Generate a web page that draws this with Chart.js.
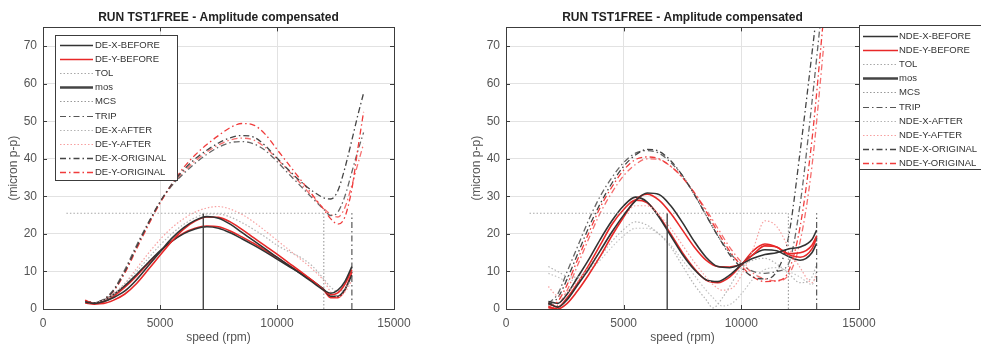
<!DOCTYPE html>
<html>
<head>
<meta charset="utf-8">
<script src="https://cdn.jsdelivr.net/npm/chart.js@4.4.1/dist/chart.umd.min.js"></script>
<style>
    html, body { margin: 0; padding: 0; background: #fff; }
    body { width: 981px; height: 347px; position: relative; overflow: hidden; }
    .panel { position: absolute; top: 0; height: 347px; }
    #deWrap { left: 0; width: 463px; }
    #ndeWrap { left: 463px; width: 518px; }
</style>
</head>
<body>
<div class="panel" id="deWrap"><canvas id="deChart"></canvas></div>
<div class="panel" id="ndeWrap"><canvas id="ndeChart"></canvas></div>
<script>
// ---- tick labels ----
const speedTicks = [0, 5000, 10000, 15000];
const ampTicks = [0, 10, 20, 30, 40, 50, 60, 70];

// ---- limit lines (same on both sides) ----
const tolSpeed = [1000, 12000];
const tolLevel = 25.5;
const mosSpeed = 6850;
const mcsSpeed = 12000;
const tripSpeed = 13200;
const limitTop = 25.5;

// ---- DE bearing ----
const deSpeed = [1800, 2200, 2600, 3000, 3500, 4000, 4500, 5000, 5500, 6000, 6500, 7000, 7500,
    8000, 8500, 9000, 9500, 10000, 10500, 11000, 11500, 12000, 12300, 12600, 12900, 13200];
const deXBefore = [1.9, 1.5, 2.0, 3.0, 4.8, 7.8, 11.5, 15.2, 18.8, 21.6, 23.6, 24.6, 24.2,
    22.6, 20.4, 18.2, 16.0, 13.8, 11.6, 9.4, 7.2, 5.0, 4.2, 5.0, 7.3, 11.3];
const deYBefore = [2.3, 1.4, 1.5, 2.3, 4.0, 6.8, 10.5, 14.3, 18.0, 21.2, 23.4, 24.5, 24.4,
    23.2, 21.2, 19.0, 16.8, 14.6, 12.3, 10.0, 7.6, 5.1, 3.8, 4.3, 6.6, 10.5];
const deXBefore2 = [1.8, 1.6, 2.4, 3.8, 6.2, 9.2, 12.4, 15.5, 18.0, 20.0, 21.3, 21.9, 21.5,
    20.3, 18.7, 17.0, 15.2, 13.3, 11.4, 9.5, 7.5, 5.2, 3.4, 3.4, 5.2, 9.0];
const deYBefore2 = [1.6, 1.3, 1.9, 3.3, 5.8, 8.8, 12.2, 15.3, 18.0, 20.2, 21.5, 22.1, 21.9,
    20.8, 19.2, 17.5, 15.6, 13.7, 11.7, 9.7, 7.6, 5.0, 3.0, 3.0, 5.0, 9.8];
const deXAfter = [1.9, 1.6, 2.5, 4.0, 6.8, 10.0, 13.5, 17.0, 20.0, 22.5, 24.3, 25.3, 25.3,
    24.5, 23.0, 21.2, 19.2, 17.0, 15.3, 13.8, 11.5, 8.0, 5.8, 4.6, 5.5, 8.0];
const deYAfter = [1.8, 1.5, 2.3, 3.8, 6.8, 10.8, 14.8, 18.5, 21.6, 24.0, 25.8, 26.9, 27.3,
    26.6, 25.2, 23.2, 20.8, 18.3, 15.8, 13.3, 10.7, 7.5, 4.5, 3.2, 4.5, 7.5];

const deOrigSpeed = [1800, 2200, 2600, 3000, 3500, 4000, 4500, 5000, 5500, 6000, 6500, 7000, 7500,
    8000, 8500, 9000, 9500, 10000, 10500, 11000, 11500, 12000, 12300, 12600, 12900, 13200, 13450, 13700];
const deXOrig = [2, 1.7, 2.6, 4.8, 10, 16.5, 22.8, 28.5, 33.2, 37, 40, 42.3, 44.2,
    45.6, 46.2, 45.8, 43.5, 40.2, 37, 34, 31.5, 29.6, 29.3, 31.5, 37.5, 45, 51.5, 57.5];
const deYOrig = [2, 1.7, 2.5, 4.6, 9.6, 16, 22.3, 28.2, 33.2, 37.6, 41, 43.8, 46.2,
    48.3, 49.4, 49, 46.5, 42.5, 38.5, 34.5, 30.5, 26.5, 24, 22.6, 24.5, 32, 42.5, 52.5];
const deXOrig2 = [2, 1.7, 2.6, 5, 10.5, 17, 23, 28.5, 32.8, 36, 38.8, 41.2, 43.1,
    44.3, 44.6, 44, 42.2, 39.3, 36, 32.8, 29.6, 26.5, 24.9, 25.8, 30, 36.5, 42, 47];
const deYOrig2 = [2, 1.7, 2.5, 4.8, 10.2, 16.6, 22.8, 28.3, 33, 36.5, 39.4, 41.8, 43.7,
    45, 45.5, 45, 43, 40, 36.8, 33.5, 30, 26.8, 25.2, 24.5, 27, 33, 38.5, 44];

// ---- NDE bearing ----
const ndeSpeed = [1800, 2200, 2600, 3000, 3500, 4000, 4500, 5000, 5500, 6000, 6500, 7000, 7500,
    8000, 8500, 9000, 9500, 10000, 10500, 11000, 11500, 12000, 12500, 13000, 13200];
const ndeXBefore = [1.5, 0.5, 2.5, 6, 10.5, 15.5, 20.5, 25, 28.8, 30.9, 30.5, 27.5, 23,
    18, 13.8, 11.3, 11, 12, 13.5, 14.5, 15, 16, 16.5, 18.5, 21];
const ndeYBefore = [0.5, 0, 1.5, 4.5, 9, 14, 19.5, 24.5, 29, 30.6, 29, 25.5, 21,
    16.5, 13, 11.3, 11.2, 12, 14.5, 16.8, 16.5, 14.8, 15, 17, 19.5];
const ndeXBefore2 = [2, 1.5, 4, 8, 13, 18.5, 23.5, 27.5, 29.8, 28.5, 24.5, 19.5, 14.5,
    10.5, 7.8, 7.3, 9, 11.8, 14.5, 15.8, 15.5, 14, 13, 15, 17.5];
const ndeYBefore2 = [1.5, 0.5, 3, 6.5, 11.5, 17, 22.5, 26.5, 29, 28.3, 24.8, 20, 15,
    10.8, 7.7, 7, 8.5, 11.7, 15.5, 17.3, 16.5, 14.5, 13.8, 16, 19];

const ndeAfterSpeed = [1800, 2200, 2600, 3000, 3500, 4000, 4500, 5000, 5500, 6000, 6500, 7000, 7500,
    8000, 8500, 8800, 9200, 9600, 10000, 10500, 11000, 11500, 12000, 12500, 13000, 13200];
const ndeXAfter = [11.3, 10, 8.7, 8.5, 10.5, 14, 18, 21.2, 23.2, 22.3, 20, 16.5, 11.5,
    6.5, 2.5, 0.3, 3, 7, 11, 13, 13.5, 12, 9.5, 7, 8.5, 12];
const ndeYAfter = [6, 3.5, 4.5, 7, 11, 15.5, 20.5, 24.5, 27.5, 27.5, 25, 21.5, 17,
    12.5, 8.5, 6.5, 5, 5.5, 9, 16, 23.5, 22, 16.5, 11, 7, 9];
const ndeXAfter2 = [9.5, 8.5, 7.5, 8, 10, 13, 16.5, 19.5, 21.5, 21.5, 20, 17, 13,
    9, 5, 3, 0.8, 1.5, 4, 8, 10.5, 11, 10, 8.5, 6.5, 10];

const ndeOrigSpeed = [1800, 2200, 2600, 3000, 3500, 4000, 4500, 5000, 5500, 6000, 6500, 7000, 7500,
    8000, 8500, 9000, 9500, 10000, 10500, 11000, 11500, 12000, 12500, 13000, 13500];
const ndeXOrig = [1, 3, 8, 14, 21.5, 28, 33.5, 38, 41, 42.5, 42, 39.5, 35.5,
    30.5, 25, 19.5, 14.5, 11, 8.5, 8, 10, 19, 42, 68, 95];
const ndeYOrig = [0.5, 2, 6.5, 12.5, 20, 27, 32.5, 37, 39.8, 40.5, 40, 38, 35,
    31, 26, 20.5, 15.5, 11.5, 8.5, 7.3, 7.5, 10, 22, 45, 78];
const ndeXOrig2 = [1.5, 4, 10, 16, 23.5, 30, 35, 39, 41.5, 42.2, 41.5, 39, 35.5,
    30.5, 25, 19.5, 15, 12, 10, 9.5, 10, 12, 28, 55, 85];
const ndeYOrig2 = [0, 1, 5, 11, 18.5, 25.5, 31, 35.5, 38.5, 40, 39.8, 38, 35,
    31, 26.5, 21.5, 16.5, 12.5, 9.5, 8, 7.5, 9, 18, 38, 70];

// ---- styles ----
const FONT = "'Liberation Sans', Arial, Helvetica, sans-serif";
const TEXT = '#555555';
const GRID = '#e2e2e2';
const BLACK = '#333333';
const RED = 'rgb(232,40,40)';
const DOT = [1.5, 2];
const DASHDOT = [6, 3, 1.5, 3];

function pts(speeds, values) {
    return speeds.map((s, i) => ({ x: s, y: values[i] }));
}

function curve(label, speeds, values, color, dash, width) {
    return {
        label,
        data: pts(speeds, values),
        borderColor: color,
        borderDash: dash,
        borderWidth: width,
        pointRadius: 0,
        fill: false,
        cubicInterpolationMode: 'monotone'
    };
}

function straight(label, speeds, values, color, dash, width, legendWidth) {
    return {
        label,
        data: pts(speeds, values),
        borderColor: color,
        borderDash: dash,
        borderWidth: width,
        legendWidth,
        pointRadius: 0,
        fill: false,
        tension: 0
    };
}

function limitLines() {
    return [
        straight('TOL', tolSpeed, [tolLevel, tolLevel], '#a8a8a8', DOT, 1.1),
        straight('mos', [mosSpeed, mosSpeed], [0, limitTop], '#444', [], 1.4, 2.4),
        straight('MCS', [mcsSpeed, mcsSpeed], [0, limitTop], '#999', DOT, 1.1),
        straight('TRIP', [tripSpeed, tripSpeed], [0, limitTop], '#555', DASHDOT, 1.2)
    ];
}

// MATLAB-like box with inward ticks
const matlabFrame = {
    id: 'matlabFrame',
    afterDatasetsDraw(chart) {
        const { ctx, chartArea: a, scales } = chart;
        ctx.save();
        ctx.strokeStyle = '#3c3c3c';
        ctx.lineWidth = 1;
        ctx.setLineDash([]);
        ctx.strokeRect(Math.round(a.left) + 0.5, Math.round(a.top) + 0.5,
            Math.round(a.right - a.left), Math.round(a.bottom - a.top));
        ctx.beginPath();
        speedTicks.forEach(v => {
            const px = Math.round(scales.x.getPixelForValue(v)) + 0.5;
            ctx.moveTo(px, a.bottom); ctx.lineTo(px, a.bottom - 4);
            ctx.moveTo(px, a.top); ctx.lineTo(px, a.top + 4);
        });
        ampTicks.forEach(v => {
            const py = Math.round(scales.y.getPixelForValue(v)) + 0.5;
            ctx.moveTo(a.left, py); ctx.lineTo(a.left + 4, py);
            ctx.moveTo(a.right, py); ctx.lineTo(a.right - 4, py);
        });
        ctx.stroke();
        ctx.restore();
    }
};

// boxed legend drawn on the canvas
const boxLegend = {
    id: 'boxLegend',
    afterDraw(chart, args, o) {
        const { ctx } = chart;
        const items = chart.data.datasets.filter(ds => ds.label);
        ctx.save();
        ctx.fillStyle = '#fff';
        ctx.fillRect(o.x, o.y, o.w, o.h);
        ctx.strokeStyle = '#3c3c3c';
        ctx.lineWidth = 1;
        ctx.setLineDash([]);
        ctx.strokeRect(o.x + 0.5, o.y + 0.5, o.w, o.h);
        ctx.font = '9.5px ' + FONT;
        ctx.textBaseline = 'middle';
        ctx.textAlign = 'left';
        items.forEach((ds, i) => {
            const cy = Math.round(o.y + o.firstRow + i * o.rowStep) + 0.5;
            ctx.strokeStyle = ds.borderColor;
            ctx.lineWidth = ds.legendWidth || ds.borderWidth;
            ctx.setLineDash(ds.borderDash || []);
            ctx.beginPath();
            ctx.moveTo(o.x + o.sampleStart, cy);
            ctx.lineTo(o.x + o.sampleEnd, cy);
            ctx.stroke();
            ctx.fillStyle = '#333';
            ctx.fillText(ds.label, o.x + o.textStart, cy);
        });
        ctx.restore();
    }
};

function makeOptions(legendBox, padRight) {
    return {
        responsive: true,
        maintainAspectRatio: false,
        animation: false,
        layout: { padding: { left: 0, right: padRight, top: 0, bottom: 0 } },
        scales: {
            x: {
                type: 'linear', min: 0, max: 15000,
                afterBuildTicks: s => { s.ticks = speedTicks.map(v => ({ value: v })); },
                ticks: { padding: 7, maxRotation: 0, color: TEXT, font: { family: FONT, size: 12 },
                    callback: v => String(v) },
                grid: { color: GRID, drawTicks: false },
                border: { display: false },
                title: { display: true, text: 'speed (rpm)', color: TEXT,
                    font: { family: FONT, size: 12 }, padding: { top: 0, bottom: 2 } },
                afterFit: s => { s.height = 38; }
            },
            y: {
                min: 0, max: 75,
                afterBuildTicks: s => { s.ticks = ampTicks.map(v => ({ value: v })); },
                ticks: { padding: 6, color: TEXT, font: { family: FONT, size: 12 },
                    callback: v => String(v) },
                grid: { color: GRID, drawTicks: false },
                border: { display: false },
                title: { display: true, text: '(micron p-p)', color: TEXT,
                    font: { family: FONT, size: 12 }, padding: { top: 6, bottom: 0 } },
                afterFit: s => { s.width = 43; }
            }
        },
        plugins: {
            legend: { display: false },
            tooltip: { enabled: false },
            title: {
                display: true, fullSize: false,
                text: 'RUN TST1FREE - Amplitude compensated',
                color: '#222', font: { family: FONT, size: 12, weight: 'bold' },
                padding: { top: 10, bottom: 3 }
            },
            boxLegend: legendBox
        }
    };
}

new Chart(document.getElementById('deChart'), {
    type: 'line',
    data: {
        datasets: [
            curve('DE-X-BEFORE', deSpeed, deXBefore, BLACK, [], 1.6),
            curve('DE-Y-BEFORE', deSpeed, deYBefore, RED, [], 1.6),
            ...limitLines(),
            curve('DE-X-AFTER', deSpeed, deXAfter, '#b4b4b4', DOT, 1.2),
            curve('DE-Y-AFTER', deSpeed, deYAfter, '#f7a0a0', DOT, 1.2),
            curve('DE-X-ORIGINAL', deOrigSpeed, deXOrig, '#444', DASHDOT, 1.3),
            curve('DE-Y-ORIGINAL', deOrigSpeed, deYOrig, 'rgb(240,60,60)', DASHDOT, 1.3),
            curve('', deSpeed, deXBefore2, BLACK, [], 1.6),
            curve('', deSpeed, deYBefore2, RED, [], 1.6),
            curve('', deOrigSpeed, deXOrig2, '#666', DASHDOT, 1.3),
            curve('', deOrigSpeed, deYOrig2, 'rgb(245,110,110)', DASHDOT, 1.3)
        ]
    },
    options: makeOptions({ x: 55, y: 35, w: 122, h: 145, firstRow: 10, rowStep: 14.1,
        sampleStart: 5, sampleEnd: 38, textStart: 40 }, 69),
    plugins: [matlabFrame, boxLegend]
});

new Chart(document.getElementById('ndeChart'), {
    type: 'line',
    data: {
        datasets: [
            curve('NDE-X-BEFORE', ndeSpeed, ndeXBefore, BLACK, [], 1.6),
            curve('NDE-Y-BEFORE', ndeSpeed, ndeYBefore, RED, [], 1.6),
            ...limitLines(),
            curve('NDE-X-AFTER', ndeAfterSpeed, ndeXAfter, '#b4b4b4', DOT, 1.2),
            curve('NDE-Y-AFTER', ndeAfterSpeed, ndeYAfter, '#f7a0a0', DOT, 1.2),
            curve('NDE-X-ORIGINAL', ndeOrigSpeed, ndeXOrig, '#444', DASHDOT, 1.3),
            curve('NDE-Y-ORIGINAL', ndeOrigSpeed, ndeYOrig, 'rgb(240,60,60)', DASHDOT, 1.3),
            curve('', ndeSpeed, ndeXBefore2, BLACK, [], 1.6),
            curve('', ndeSpeed, ndeYBefore2, RED, [], 1.6),
            curve('', ndeAfterSpeed, ndeXAfter2, '#c4c4c4', DOT, 1.2),
            curve('', ndeOrigSpeed, ndeXOrig2, '#666', DASHDOT, 1.3),
            curve('', ndeOrigSpeed, ndeYOrig2, 'rgb(245,110,110)', DASHDOT, 1.3)
        ]
    },
    options: makeOptions({ x: 396, y: 25, w: 140, h: 144, firstRow: 11, rowStep: 14.1,
        sampleStart: 4, sampleEnd: 39, textStart: 40 }, 122),
    plugins: [matlabFrame, boxLegend]
});
</script>
</body>
</html>
